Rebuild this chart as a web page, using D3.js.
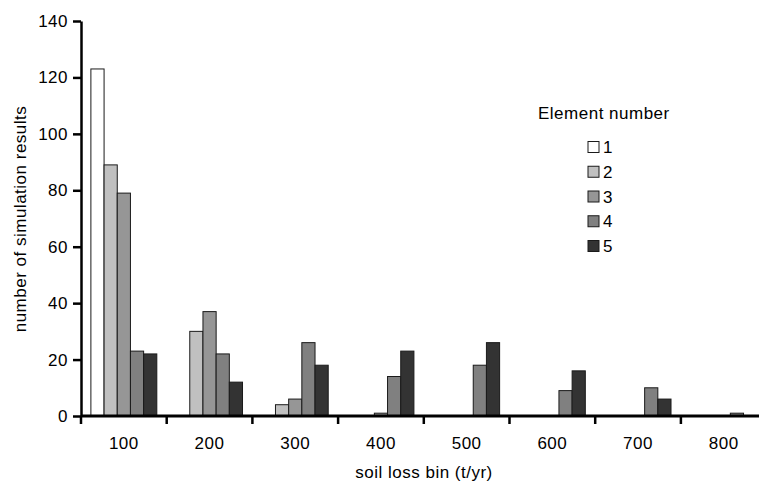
<!DOCTYPE html>
<html>
<head>
<meta charset="utf-8">
<script src="https://cdn.jsdelivr.net/npm/d3@7"></script>
<style>
  html, body { margin: 0; padding: 0; background: #fff; }
  svg { display: block; }
  text { font-family: "Liberation Sans", Arial, sans-serif; fill: #000; letter-spacing: 0.5px; }
</style>
</head>
<body>
<div id="chart"></div>
<script>
// soil loss bins (t/yr)
var bins = ['100', '200', '300', '400', '500', '600', '700', '800'];
var elements = ['1', '2', '3', '4', '5'];
var yTicks = [0, 20, 40, 60, 80, 100, 120, 140];

// counts per element, one value per bin
var elem1 = [123, 0, 0, 0, 0, 0, 0, 0];
var elem2 = [89, 30, 4, 0, 0, 0, 0, 0];
var elem3 = [79, 37, 6, 1, 0, 0, 0, 0];
var elem4 = [23, 22, 26, 14, 18, 9, 10, 1];
var elem5 = [22, 12, 18, 23, 26, 16, 6, 0];

var fills = ['#ffffff', '#c0c0c0', '#969696', '#808080', '#333333'];

//------------------------------------------------------------------------------
var W = 759, H = 482;
var margin = {l: 81, t: 21, b: 66};
var series = [elem1, elem2, elem3, elem4, elem5];

var svg = d3.select('#chart').append('svg')
	.attr('width', W)
	.attr('height', H);

var x0 = d3.scaleBand().domain(bins).range([margin.l, margin.l + 8 * 85.7]);
var x1 = d3.scaleBand().domain(elements).range([0, x0.bandwidth()]).paddingOuter(0.75);
var y = d3.scaleLinear().domain([0, 140]).range([H - margin.b, margin.t]);

// bars
var groups = svg.selectAll('.grp')
	.data(bins)
	.enter().append('g')
	.attr('class', 'grp')
	.attr('transform', function(d) { return 'translate(' + x0(d) + ',0)'; });

groups.selectAll('rect')
	.data(function(d, i) {
		return elements.map(function(e, j) { return {e: e, j: j, v: series[j][i]}; });
	})
	.enter().append('rect')
	.filter(function(d) { return d.v > 0; })
	.attr('x', function(d) { return x1(d.e); })
	.attr('width', x1.bandwidth())
	.attr('y', function(d) { return y(d.v); })
	.attr('height', function(d) { return y(0) - y(d.v); })
	.attr('fill', function(d) { return fills[d.j]; })
	.attr('stroke', '#1a1a1a')
	.attr('stroke-width', 1);

// y axis
var yAxis = svg.append('g')
	.attr('transform', 'translate(' + margin.l + ',0)')
	.call(d3.axisLeft(y).tickValues(yTicks).tickSize(8).tickSizeOuter(0).tickPadding(5));
yAxis.select('.domain').attr('stroke-width', 2.5);
yAxis.selectAll('.tick line').attr('stroke-width', 2.5);
yAxis.selectAll('.tick text').style('font-size', '17px');

// x axis: line, ticks at bin boundaries, labels at bin centres
var xAxis = svg.append('g');
xAxis.append('line')
	.attr('x1', margin.l).attr('x2', W)
	.attr('y1', y(0)).attr('y2', y(0))
	.attr('stroke', '#000').attr('stroke-width', 3);
xAxis.selectAll('.xt')
	.data(bins)
	.enter().append('line')
	.attr('class', 'xt')
	.attr('x1', function(d) { return x0(d); })
	.attr('x2', function(d) { return x0(d); })
	.attr('y1', y(0)).attr('y2', y(0) + 8)
	.attr('stroke', '#000').attr('stroke-width', 2.5);
xAxis.selectAll('.xl')
	.data(bins)
	.enter().append('text')
	.attr('class', 'xl')
	.attr('x', function(d) { return x0(d) + x0.bandwidth() / 2; })
	.attr('y', y(0) + 33)
	.style('text-anchor', 'middle')
	.style('font-size', '17px')
	.text(function(d) { return d; });

// axis titles
svg.append('text')
	.attr('x', 424)
	.attr('y', 478)
	.style('text-anchor', 'middle')
	.style('font-size', '17px')
	.text('soil loss bin (t/yr)');

svg.append('text')
	.attr('transform', 'translate(26,219)rotate(-90)')
	.style('text-anchor', 'middle')
	.style('font-size', '17px')
	.text('number of simulation results');

// legend
var legend = svg.append('g').attr('transform', 'translate(538,0)');
legend.append('text')
	.attr('x', 0).attr('y', 119)
	.style('font-size', '17px')
	.text('Element number');

var items = legend.selectAll('.li')
	.data(elements)
	.enter().append('g')
	.attr('class', 'li')
	.attr('transform', function(d, i) { return 'translate(50,' + (147 + i * 24.75) + ')'; });
items.append('rect')
	.attr('x', 0).attr('y', -5.5)
	.attr('width', 11).attr('height', 11)
	.attr('fill', function(d, i) { return fills[i]; })
	.attr('stroke', '#1a1a1a').attr('stroke-width', 1);
items.append('text')
	.attr('x', 15).attr('y', 6)
	.style('font-size', '17px')
	.text(function(d) { return d; });
</script>
</body>
</html>
